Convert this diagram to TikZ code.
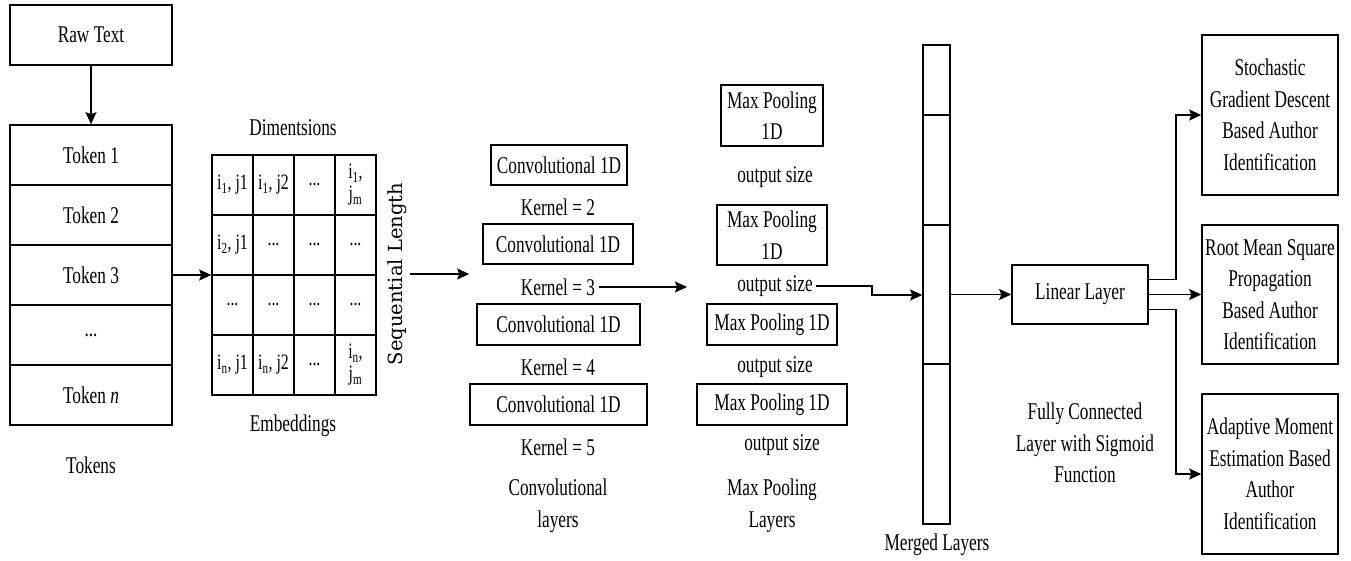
\documentclass[tikz,border=0pt]{standalone}
\usepackage{fontspec}
\setmainfont{Liberation Serif}[FakeStretch=0.72]
\newfontfamily\seqfont{DejaVu Serif}
\usetikzlibrary{arrows.meta,positioning}

\tikzset{
  block/.style={draw,inner sep=0pt,align=center},
  token/.style={block,minimum width=162pt,minimum height=60pt},
  cell/.style={block,minimum width=41pt,minimum height=60pt,font=\fontsize{22}{22}\selectfont},
  lbl/.style={inner sep=3pt,align=center}
}

\begin{document}
\begin{tikzpicture}[x=1pt,y=-1pt,->,>={Stealth[length=12pt,width=11pt,inset=2pt]},line width=1.6pt,node distance=60pt,font=\fontsize{24}{31.5}\selectfont]
\useasboundingbox (0,0) rectangle (1351,560);

  % tokens
  \node[token] (raw) at (91,35) {Raw Text};
  \node[token] (t1) at (91,155) {Token 1};
  \node[token] (t2) [below of=t1] {Token 2};
  \node[token] (t3) [below of=t2] {Token 3};
  \node[token] (t4) [below of=t3] {...};
  \node[token] (t5) [below of=t4] {Token \textit{n}};
  \node[lbl] (tok) at (91,465) {Tokens};

  % embeddings
  \foreach \r/\c/\t in {1/1/{i\textsubscript{1}, j1},1/2/{i\textsubscript{1}, j2},1/3/{...},1/4/{i\textsubscript{1},\\j\textsubscript{m}},
                        2/1/{i\textsubscript{2}, j1},2/2/{...},2/3/{...},2/4/{...},
                        3/1/{...},3/2/{...},3/3/{...},3/4/{...},
                        4/1/{i\textsubscript{n}, j1},4/2/{i\textsubscript{n}, j2},4/3/{...},4/4/{i\textsubscript{n},\\j\textsubscript{m}}}
    \node[cell] (e-\r-\c) at (191.5+41*\c,125+60*\r) {\t};
  \node[lbl] (dim) at (293,128) {Dimentsions};
  \node[lbl] (emb) at (293,426) {Embeddings};
  \node[lbl,rotate=90,font=\seqfont\fontsize{19.5}{20}\selectfont] (seq) at (397,274) {Sequential Length};

  % convolutions
  \node[block,minimum width=136pt,minimum height=40pt] (c1) at (559,165) {Convolutional 1D};
  \node[block,minimum width=150pt,minimum height=40pt] (c2) at (558,244) {Convolutional 1D};
  \node[block,minimum width=163pt,minimum height=41pt] (c3) at (558.5,324.5) {Convolutional 1D};
  \node[block,minimum width=177pt,minimum height=41pt] (c4) at (558.5,404.5) {Convolutional 1D};
  \node[lbl] (k2) at (558,207) {Kernel = 2};
  \node[lbl] (k3) at (558,287) {Kernel = 3};
  \node[lbl] (k4) at (558,367) {Kernel = 4};
  \node[lbl] (k5) at (558,447) {Kernel = 5};
  \node[lbl] (convl) at (558,506) {Convolutional\\layers};

  % pooling
  \node[block,minimum width=102pt,minimum height=61pt] (m1) at (772,115.5) {Max Pooling\\1D};
  \node[block,minimum width=110pt,minimum height=60pt] (m2) at (772,235) {Max Pooling\\1D};
  \node[block,minimum width=130pt,minimum height=41pt] (m3) at (772,324.5) {Max Pooling 1D};
  \node[block,minimum width=150pt,minimum height=41pt] (m4) at (772,404.5) {Max Pooling 1D};
  \node[lbl] (o1) at (775,177) {output size};
  \node[lbl] (o2) at (775,286) {output size};
  \node[lbl] (o3) at (775,367) {output size};
  \node[lbl] (o4) at (782,445) {output size};
  \node[lbl] (pooll) at (772,506) {Max Pooling\\Layers};
  \coordinate (mpin) at (687,287);

  % merged and dense part
  \node[block,minimum width=27pt,minimum height=479pt] (mg) at (936.5,284.5) {};
  \foreach \y in {115,225,364}
    \draw[-] (mg.west |- 0,\y) -- (mg.east |- 0,\y);
  \node[lbl] (mgl) at (937,545) {Merged Layers};
  \coordinate (bend) at (872,295);
  \node[block,minimum width=136pt,minimum height=59pt] (lin) at (1080,294.5) {Linear Layer};
  \node[lbl] (fc) at (1085,443) {Fully Connected\\Layer with Sigmoid\\Function};

  % optimisers
  \node[block,minimum width=136pt,minimum height=160pt] (s1) at (1270,115) {Stochastic\\Gradient Descent\\Based Author\\Identification};
  \node[block,minimum width=136pt,minimum height=139pt] (s2) at (1270,294.5) {Root Mean Square\\Propagation\\Based Author\\Identification};
  \node[block,minimum width=136pt,minimum height=160pt] (s3) at (1270,474) {Adaptive Moment\\Estimation Based\\Author\\Identification};

  \path (raw) edge (t1)
        (t3.east) edge (t3.east -| e-3-1.west)
        (seq.south) edge (seq.south -| c4.west)
        (k3) edge (mpin)
        (lin.west -| mg.east) edge (lin.west)
        (lin) edge (s2);
  \draw (o2.east) -| (bend) -- (bend -| mg.west);
  \draw ([yshift=15pt]lin.east) -- ++(27,0) |- (s1);
  \draw ([yshift=-15pt]lin.east) -- ++(27,0) |- (s3);

\end{tikzpicture}
\end{document}
